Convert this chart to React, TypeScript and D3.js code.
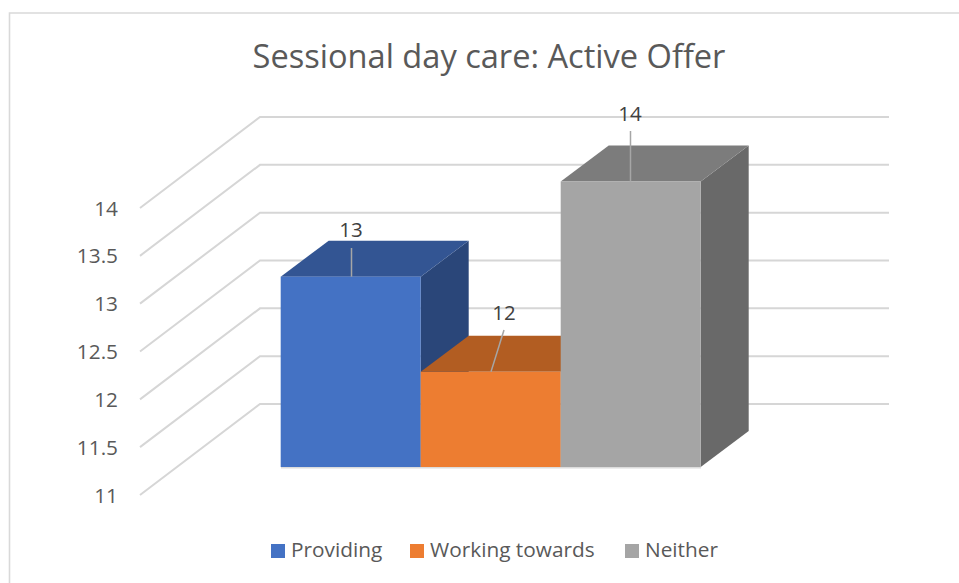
import React from "react";
import * as d3 from "d3";

const titleText = "Sessional day care: Active Offer";
const categories = ["Providing", "Working towards", "Neither"];
const values = [13, 12, 14];
const ticks = [11, 11.5, 12, 12.5, 13, 13.5, 14];
const frontColors = ["#4472c4", "#ed7d31", "#a5a5a5"];
const topColors = ["#335593", "#b25d22", "#7c7c7c"];
const sideColors = ["#2a4679", "#8f4b1d", "#696969"];
const labelAnchors = [[351, 229], [504, 312], [630, 113]];
const leaderEnds = [[351.5, 248, 351.5], [504, 330, 491], [630.5, 131, 630.5]];
const legendSwatchX = [271, 410, 625];

const W = 959, H = 583;
const FONT = "'Open Sans','Noto Sans',sans-serif";
const DX = 48, DY = -36;
const wallDX = -120, wallDY = 91;

const gridY = d3.scaleLinear().domain([11, 14]).range([404, 117]);
const barY = d3.scaleLinear().domain([11, 14]).range([467, 181.5]);
const barX = d3.scaleBand<string>().domain(categories).range([280.7, 700.7]).padding(0);

const poly = d3.line<[number, number]>().x(d => d[0]).y(d => d[1]);

export default function App() {
  const bw = barX.bandwidth();
  const y0 = barY(11);
  return (
    <svg width={W} height={H} viewBox={`0 0 ${W} ${H}`}
      style={{ position: "absolute", left: 0, top: 0, display: "block", background: "#fff" }}>
      <path d={`M9.5 583V13H959`} fill="none" stroke="#d9d9d9" strokeWidth={1.6} />
      <text x={489} y={68} textAnchor="middle" fontFamily={FONT} fontSize={32.6} fill="#595959">{titleText}</text>

      {ticks.map(t => {
        const y = gridY(t);
        return (
          <g key={t}>
            <path d={`M${260 + wallDX} ${y + wallDY}L260 ${y}H889`} fill="none" stroke="#d6d6d6" strokeWidth={2} />
            <text x={118} y={y + wallDY + 7.5} textAnchor="end" fontFamily={FONT} fontSize={20.8} fill="#595959">{t}</text>
          </g>
        );
      })}

      <path d={`M281 ${y0 + 0.5}H701`} stroke="#dcdcdc" strokeWidth={2} />

      {categories.map((c, i) => {
        const x = barX(c)!;
        const y = barY(values[i]);
        return (
          <g key={c}>
            <path d={poly([[x + bw, y], [x + bw + DX, y + DY], [x + bw + DX, y0 + DY], [x + bw, y0]])! + "Z"} fill={sideColors[i]} />
          </g>
        );
      })}
      {categories.map((c, i) => {
        const x = barX(c)!;
        const y = barY(values[i]);
        return (
          <g key={c}>
            <path d={poly([[x, y], [x + DX, y + DY], [x + bw + DX, y + DY], [x + bw, y]])! + "Z"} fill={topColors[i]} />
            <rect x={x} y={y} width={bw} height={y0 - y} fill={frontColors[i]} />
          </g>
        );
      })}
      {categories.map((c, i) => {
        const y = barY(values[i]);
        const [lx, ly, ex] = leaderEnds[i];
        return (
          <g key={c}>
            <line x1={lx} y1={ly} x2={ex} y2={y} stroke="#a6a6a6" strokeWidth={1.5} />
            <text x={labelAnchors[i][0]} y={labelAnchors[i][1] + 7.5} textAnchor="middle" fontFamily={FONT} fontSize={20.5} fill="#404040">{values[i]}</text>
          </g>
        );
      })}

      {categories.map((c, i) => (
        <g key={c}>
          <rect x={legendSwatchX[i]} y={544} width={14} height={14} fill={frontColors[i]} />
          <text x={legendSwatchX[i] + 20} y={557} fontFamily={FONT} fontSize={20.8} fill="#595959">{c}</text>
        </g>
      ))}
    </svg>
  );
}
